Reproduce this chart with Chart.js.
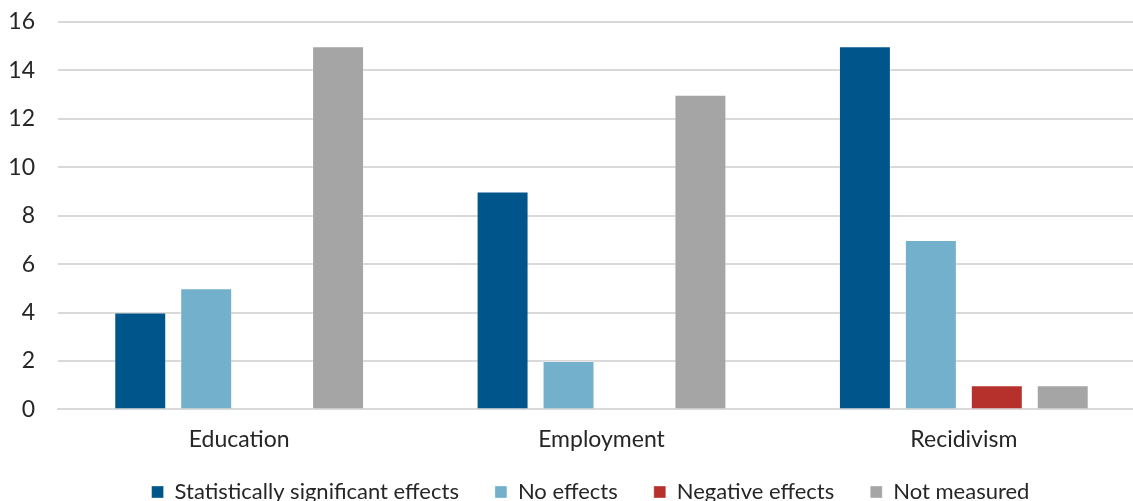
<!DOCTYPE html>
<html>
<head>
<meta charset="utf-8">
<script src="https://cdn.jsdelivr.net/npm/chart.js@4"></script>
<style>
  html, body { margin: 0; padding: 0; background: #fff; overflow: hidden; }
  #wrap { width: 1146px; height: 537px; position: relative; }
</style>
</head>
<body>
<div id="wrap"><canvas id="chart"></canvas></div>
<script>
const categories = ['Education', 'Employment', 'Recidivism'];
const significant = [4, 9, 15];
const noEffects = [5, 2, 7];
const negative = [0, 0, 1];
const notMeasured = [15, 13, 1];
const yTicks = [0, 2, 4, 6, 8, 10, 12, 14, 16];

const font = "Lato, 'Open Sans', sans-serif";

function dataset(label, data, color) {
    return {
        label: label,
        data: data,
        backgroundColor: color,
        borderColor: 'rgba(255,255,255,0.35)',
        borderWidth: 1,
        categoryPercentage: 0.728,
        barPercentage: 0.788
    };
}

// pull the legend up closer to the axis labels and a bit to the right
const legendShift = {
    id: 'legendShift',
    afterLayout(chart) {
        chart.legend.top -= 24;
        chart.legend.bottom -= 24;
        chart.legend.left += 18;
        chart.legend.right += 18;
    }
};

new Chart(document.getElementById('chart'), {
    type: 'bar',
    data: {
        labels: categories,
        datasets: [
            dataset('Statistically significant effects', significant, '#00558b'),
            dataset('No effects', noEffects, '#72b0cb'),
            dataset('Negative effects', negative, '#b7312c'),
            dataset('Not measured', notMeasured, '#a5a5a5')
        ]
    },
    options: {
        responsive: true,
        maintainAspectRatio: false,
        animation: false,
        layout: { padding: { top: 22, left: 0, right: 1, bottom: 0 } },
        scales: {
            x: {
                grid: { display: false, drawTicks: false },
                border: { color: '#d9d9d9', width: 2 },
                ticks: { color: '#262626', font: { family: font, size: 23 }, padding: 16 }
            },
            y: {
                min: 0,
                max: 16,
                afterBuildTicks: axis => { axis.ticks = yTicks.map(v => ({ value: v })); },
                afterFit: axis => { axis.width = 58; axis.paddingTop = 0; },
                grid: { color: '#d9d9d9', lineWidth: 2, drawTicks: false },
                border: { display: false },
                ticks: { color: '#262626', font: { family: font, size: 23 }, padding: 23 }
            }
        },
        plugins: {
            legend: {
                position: 'bottom',
                labels: {
                    color: '#262626',
                    font: { family: font, size: 22 },
                    boxWidth: 12,
                    boxHeight: 12,
                    padding: 36
                }
            },
            tooltip: { enabled: false }
        }
    },
    plugins: [legendShift]
});
</script>
</body>
</html>
